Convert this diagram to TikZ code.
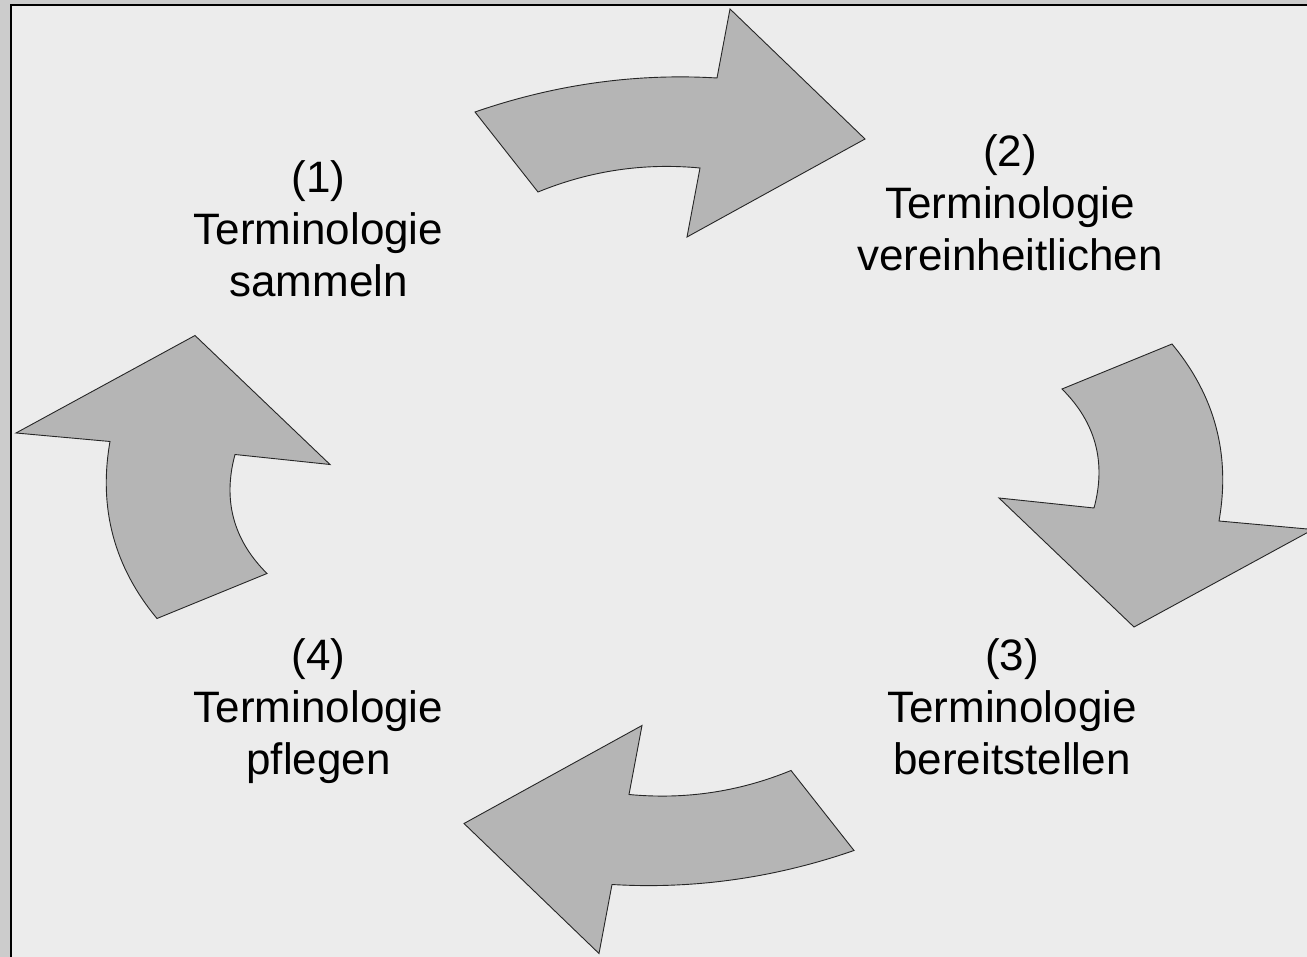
\documentclass[tikz,border=0pt]{standalone}
\usepackage{fontspec}
\setmainfont{Liberation Sans}
\definecolor{outerbg}{HTML}{CCCCCC}
\definecolor{panelbg}{HTML}{ECECEC}
\definecolor{arrowfill}{HTML}{B5B5B5}
\begin{document}
\begin{tikzpicture}[x=1pt,y=-1pt,
  bigarrow/.style={fill=arrowfill,draw=black!85,line width=0.9pt,line join=miter},
  stage/.style={align=center,anchor=base,inner sep=0pt,
    font=\fontsize{44}{52}\selectfont}]
  % canvas
  \useasboundingbox (0,0) rectangle (1307,957);
  \clip (0,0) rectangle (1307,957);
  \fill[outerbg] (0,0) rectangle (1307,957);
  \draw[fill=panelbg,line width=2pt] (11,5) rectangle (1330,980);

  % centre of the cycle
  \coordinate (ctr) at (664.5,481.25);

  % curved arrow pointing right (top) and its half-turn copy (bottom)
  \foreach \ang in {0,180}{
    \begin{scope}[rotate around={\ang:(ctr)}]
      \draw[bigarrow] (475,112) .. controls (553,85) and (634,73) .. (717,78)
        -- (730,9) -- (865,139) -- (687,237) -- (700,168)
        .. controls (644,162.7) and (590,170.7) .. (538,192) -- cycle;
    \end{scope}
  }
  % curved arrow pointing down (right) and its half-turn copy (left)
  \foreach \ang in {0,180}{
    \begin{scope}[rotate around={\ang:(ctr)}]
      \draw[bigarrow] (1062,389) -- (1172,344)
        .. controls (1215,395.7) and (1230.7,454.7) .. (1219,521)
        -- (1313,529.5) -- (1134,627) -- (999,498) -- (1094,508)
        .. controls (1106.4,462.2) and (1095.7,422.5) .. (1062,389) -- cycle;
    \end{scope}
  }

  % stage labels (anchored on the baseline of the last line)
  \node[stage] (s1) at (318.5,297) {(1)\\Terminologie\\sammeln};
  \node[stage] (s2) at (1010,270.7) {(2)\\Terminologie\\vereinheitlichen};
  \node[stage] (s3) at (1012,774.7) {(3)\\Terminologie\\bereitstellen};
  \node[stage] (s4) at (318.5,774.7) {(4)\\Terminologie\\pflegen};
\end{tikzpicture}
\end{document}
